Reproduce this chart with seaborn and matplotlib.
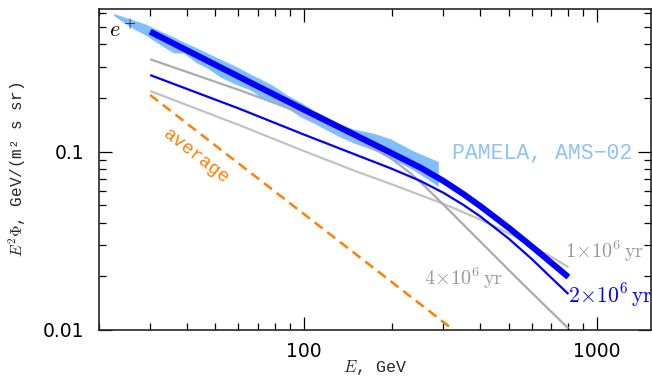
import numpy as np
import pandas as pd
import matplotlib
matplotlib.use('Agg')
import matplotlib.pyplot as plt
import matplotlib.ticker as mticker
import seaborn as sns

# energies in GeV, values are E^2 * flux in GeV/(m^2 s sr)
band_E = [22.5, 25.7, 28.9, 32.5, 36.1, 39.0, 43.3, 46.9, 52.0, 59.3, 65.8, 71.2,
          79.0, 87.8, 97.5, 108, 120, 133, 148, 173, 198, 237, 288]
band_hi = [0.596, 0.555, 0.520, 0.475, 0.440, 0.412, 0.382, 0.358, 0.331, 0.299, 0.273, 0.256,
           0.234, 0.208, 0.190, 0.171, 0.157, 0.143, 0.134, 0.127, 0.118, 0.101, 0.088]
band_lo = [0.581, 0.500, 0.451, 0.397, 0.358, 0.358, 0.314, 0.295, 0.262, 0.237, 0.222, 0.203,
           0.190, 0.176, 0.157, 0.145, 0.132, 0.121, 0.112, 0.102, 0.092, 0.079, 0.064]

total_E = [30, 100, 150, 200, 250, 300, 350, 400, 500, 600, 700, 800]
total_F = [0.471, 0.1725, 0.124, 0.098, 0.0815, 0.0685, 0.0580, 0.0496, 0.0375, 0.0294, 0.0238, 0.0198]

age2_E = [30, 60, 100, 150, 200, 250, 300, 350, 400, 500, 600, 700, 800]
age2_F = [0.269, 0.175, 0.125, 0.0964, 0.0802, 0.0686, 0.0588, 0.0504, 0.0434, 0.0326, 0.0250,
          0.0196, 0.0159]

age1_E = [30, 60, 100, 150, 200, 300, 400, 500, 600, 700, 800]
age1_F = [0.219, 0.1415, 0.101, 0.0779, 0.0656, 0.0510, 0.0417, 0.0349, 0.0297, 0.0257, 0.0225]

age4_E = [30, 45, 60, 80, 100, 130, 160, 200, 230, 260, 300, 400, 550, 800]
age4_F = [0.330, 0.262, 0.2225, 0.187, 0.162, 0.133, 0.1125, 0.091, 0.0764, 0.0636, 0.0504,
          0.0314, 0.0186, 0.0102]

avg_E = [30, 325]
avg_F = [0.208, 0.0100]

sns.set_style('ticks')
plt.rcParams['font.family'] = ['DejaVu Sans']
plt.rcParams['mathtext.fontset'] = 'cm'

fig = plt.figure(figsize=(6.52, 3.81), dpi=100)
ax = fig.add_axes([0.1511, 0.1339, 0.8474, 0.8417])
ax.set_xscale('log')
ax.set_yscale('log')

blue = '#0000ff'
ax.fill_between(band_E, band_lo, band_hi, color='#80bfff', lw=0, zorder=1)

line_kw = dict(ax=ax, sort=False, estimator=None, solid_capstyle='butt')
sns.lineplot(x=age1_E, y=age1_F, color='#c2c2c2', lw=1.6, zorder=2, **line_kw)
sns.lineplot(x=age4_E, y=age4_F, color='#ababab', lw=1.6, zorder=2, **line_kw)
sns.lineplot(x=age2_E, y=age2_F, color=blue, lw=1.6, zorder=3, **line_kw)
sns.lineplot(x=total_E, y=total_F, color=blue, lw=4.4, zorder=4, **line_kw)
sns.lineplot(x=avg_E, y=avg_F, color='#ff8000', lw=1.8, linestyle=(0, (4, 2.4)),
             zorder=3, **line_kw)

ax.set_xlim(20, 1530)
ax.set_ylim(0.01, 0.629)

ax.xaxis.set_major_locator(mticker.FixedLocator([100, 1000]))
ax.xaxis.set_major_formatter(mticker.FixedFormatter(['100', '1000']))
ax.xaxis.set_minor_locator(mticker.LogLocator(base=10, subs=np.arange(2, 10)))
ax.xaxis.set_minor_formatter(mticker.NullFormatter())
ax.yaxis.set_major_locator(mticker.FixedLocator([0.01, 0.1]))
ax.yaxis.set_major_formatter(mticker.FixedFormatter(['0.01', '0.1']))
ax.yaxis.set_minor_locator(mticker.LogLocator(base=10, subs=np.arange(2, 10)))
ax.yaxis.set_minor_formatter(mticker.NullFormatter())

ax.tick_params(which='both', direction='in', top=True, right=True, width=0.9, colors='black')
ax.tick_params(which='major', length=9.5, labelsize=13.5, pad=9)
ax.tick_params(which='minor', length=4.8)
ax.tick_params(axis='y', which='major', pad=10.5)
for s in ax.spines.values():
    s.set_linewidth(1.2)
    s.set_visible(True)

ax.set_xlabel(r'$E$, GeV', fontsize=12, family='Liberation Mono')
ax.set_ylabel(r'$E^2\Phi$, GeV/(m² s sr)', fontsize=11.5, family='Liberation Mono')
ax.xaxis.set_label_coords(0.5, -0.088)
ax.yaxis.set_label_coords(-0.128, 0.5)

ax.text(24.2, 0.48, r'$e^+$', fontsize=16, ha='center', va='center', color='black')
ax.text(43.0, 0.0937, 'average', fontsize=13.5, family='Liberation Mono', color='#ff8000',
        rotation=-38, ha='center', va='center', rotation_mode='anchor')
ax.text(321, 0.0974, 'PAMELA, AMS\u221202', fontsize=15.5, family='Liberation Mono',
        color='#8cc4fa', ha='left', va='center')
ax.text(780, 0.0275, r'$1\!\times\!10^6\,\mathrm{yr}$', fontsize=14.5, color='#999999',
        ha='left', va='center')
ax.text(800, 0.0157, r'$2\!\times\!10^6\,\mathrm{yr}$', fontsize=15.5, color=blue,
        ha='left', va='center', clip_on=False)
ax.text(350, 0.0194, r'$4\!\times\!10^6\,\mathrm{yr}$', fontsize=14.5, color='#999999',
        ha='center', va='center')

fig.savefig('out.png', dpi=100)
